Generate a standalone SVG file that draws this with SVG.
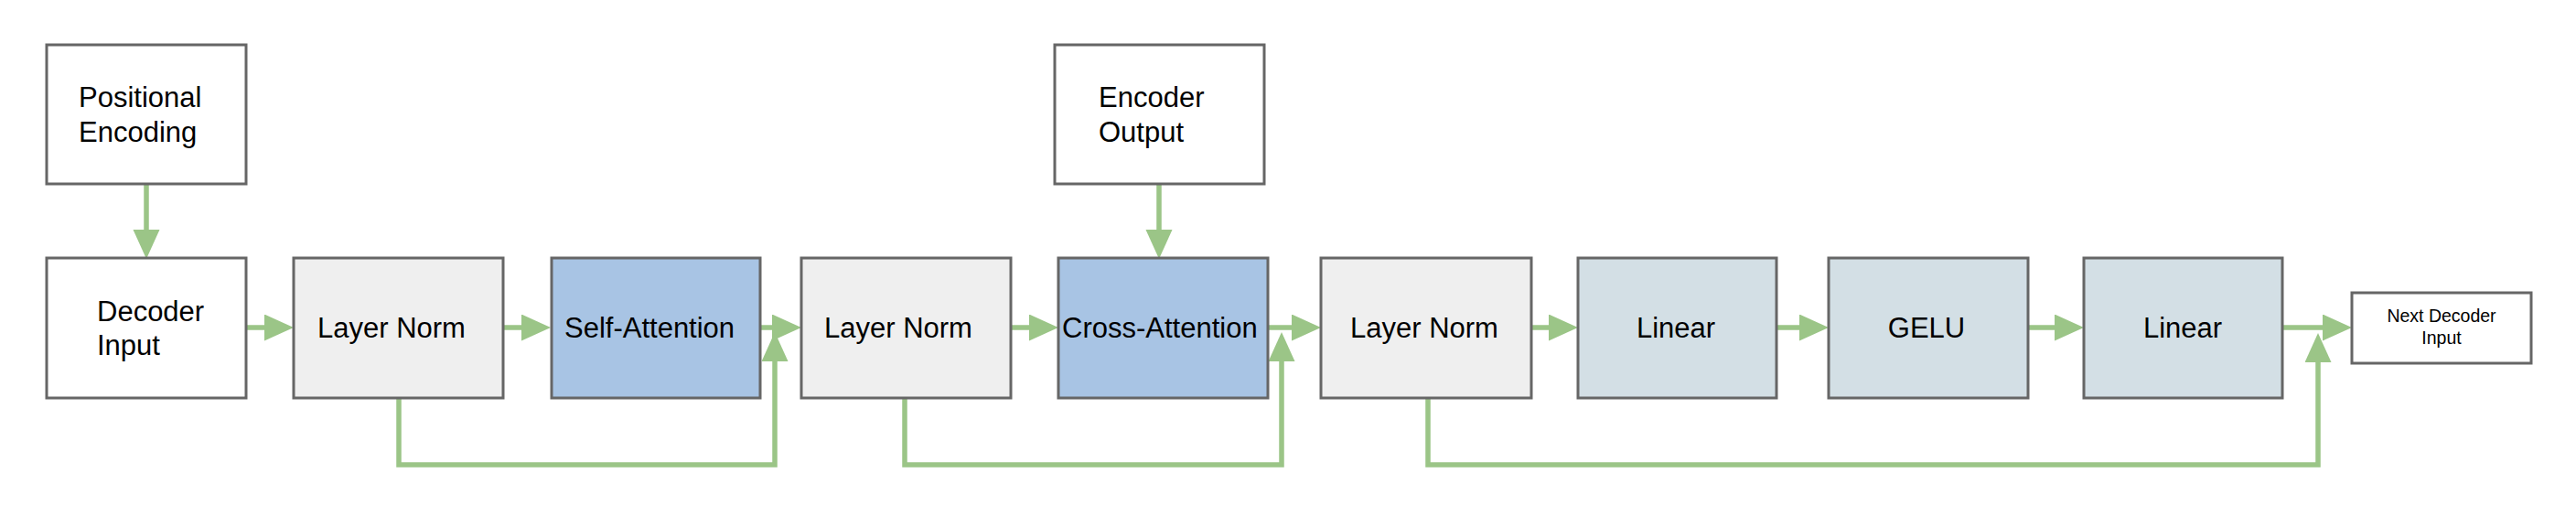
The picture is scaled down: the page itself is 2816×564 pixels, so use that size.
<svg xmlns="http://www.w3.org/2000/svg" width="2816" height="564" viewBox="0 0 2816 564">
  <style>
    .box { stroke: #666666; stroke-width: 3; }
    .plain { fill: #ffffff; }
    .norm { fill: #efefef; }
    .attn { fill: #a8c4e4; }
    .ffn { fill: #d3dfe5; }
    .lbl { font-family: "Liberation Sans", Arial, sans-serif; font-size: 31px; fill: #000000; }
    .small { font-family: "Liberation Sans", Arial, sans-serif; font-size: 19.5px; fill: #000000; text-anchor: middle; }
    .mid { text-anchor: middle; }
    .conn { fill: none; stroke: #9bc587; stroke-width: 5.5; }
  </style>
  <defs>
    <marker id="head" markerUnits="userSpaceOnUse" markerWidth="34" markerHeight="30" refX="2" refY="14.5" orient="auto">
      <path d="M0,0 L32,14.5 L0,29 Z" fill="#9bc587"/>
    </marker>
  </defs>
  <rect width="2816" height="564" fill="#ffffff"/>

  <g id="connectors">
    <path class="conn" d="M160,201 V253" marker-end="url(#head)"/>
    <path class="conn" d="M269,358 H291" marker-end="url(#head)"/>
    <path class="conn" d="M550,358 H572" marker-end="url(#head)"/>
    <path class="conn" d="M831,358 H846" marker-end="url(#head)"/>
    <path class="conn" d="M1105,358 H1127" marker-end="url(#head)"/>
    <path class="conn" d="M1267,201 V253" marker-end="url(#head)"/>
    <path class="conn" d="M1386,358 H1414" marker-end="url(#head)"/>
    <path class="conn" d="M1674,358 H1695" marker-end="url(#head)"/>
    <path class="conn" d="M1942,358 H1969" marker-end="url(#head)"/>
    <path class="conn" d="M2217,358 H2248" marker-end="url(#head)"/>
    <path class="conn" d="M2495,358 H2541" marker-end="url(#head)"/>
    <path class="conn" d="M436,435 V508 H847 V393" marker-end="url(#head)"/>
    <path class="conn" d="M989,435 V508 H1401 V393" marker-end="url(#head)"/>
    <path class="conn" d="M1561,435 V508 H2534 V394" marker-end="url(#head)"/>
  </g>

  <g id="positional-encoding">
    <rect class="box plain" x="51" y="49" width="218" height="152"/>
    <text class="lbl" x="86" y="117">Positional</text>
    <text class="lbl" x="86" y="155">Encoding</text>
  </g>
  <g id="decoder-input">
    <rect class="box plain" x="51" y="282" width="218" height="153"/>
    <text class="lbl" x="106" y="351">Decoder</text>
    <text class="lbl" x="106" y="388">Input</text>
  </g>
  <g id="layer-norm-1">
    <rect class="box norm" x="321" y="282" width="229" height="153"/>
    <text class="lbl" x="347" y="369">Layer Norm</text>
  </g>
  <g id="self-attention">
    <rect class="box attn" x="603" y="282" width="228" height="153"/>
    <text class="lbl" x="617" y="369">Self-Attention</text>
  </g>
  <g id="layer-norm-2">
    <rect class="box norm" x="876" y="282" width="229" height="153"/>
    <text class="lbl" x="901" y="369">Layer Norm</text>
  </g>
  <g id="encoder-output">
    <rect class="box plain" x="1153" y="49" width="229" height="152"/>
    <text class="lbl" x="1201" y="117">Encoder</text>
    <text class="lbl" x="1201" y="155">Output</text>
  </g>
  <g id="cross-attention">
    <rect class="box attn" x="1157" y="282" width="229" height="153"/>
    <text class="lbl" x="1161" y="369">Cross-Attention</text>
  </g>
  <g id="layer-norm-3">
    <rect class="box norm" x="1444" y="282" width="230" height="153"/>
    <text class="lbl" x="1476" y="369">Layer Norm</text>
  </g>
  <g id="linear-1">
    <rect class="box ffn" x="1725" y="282" width="217" height="153"/>
    <text class="lbl mid" x="1832" y="369">Linear</text>
  </g>
  <g id="gelu">
    <rect class="box ffn" x="1999" y="282" width="218" height="153"/>
    <text class="lbl mid" x="2106" y="369">GELU</text>
  </g>
  <g id="linear-2">
    <rect class="box ffn" x="2278" y="282" width="217" height="153"/>
    <text class="lbl mid" x="2386" y="369">Linear</text>
  </g>
  <g id="next-decoder-input">
    <rect class="box plain" x="2571" y="320" width="196" height="77"/>
    <text class="small" x="2669" y="352">Next Decoder</text>
    <text class="small" x="2669" y="376">Input</text>
  </g>
</svg>
